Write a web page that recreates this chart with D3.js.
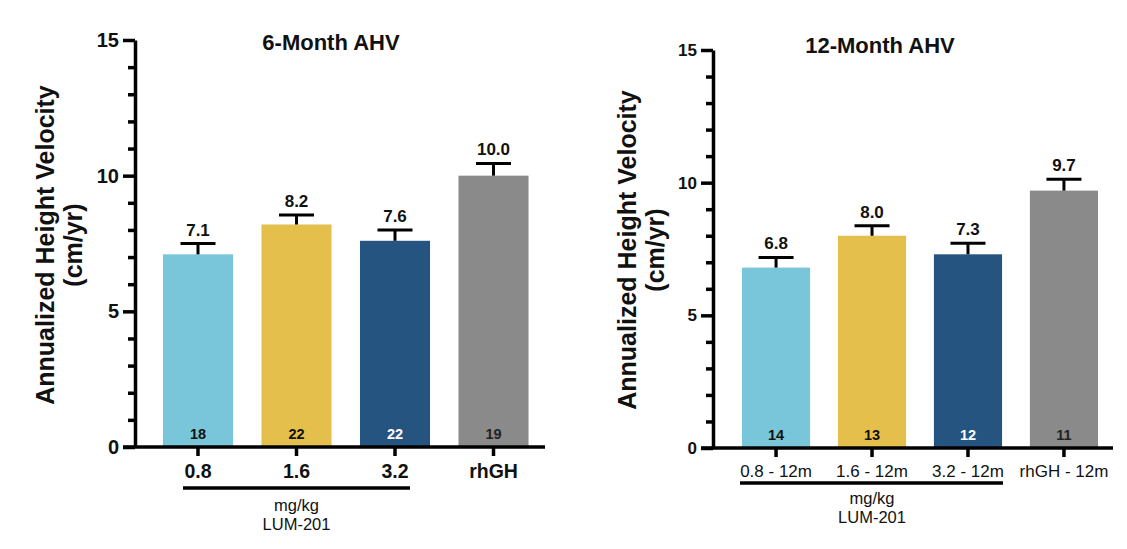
<!DOCTYPE html>
<html><head><meta charset="utf-8">
<script src="https://cdn.jsdelivr.net/npm/d3@7"></script>
<style>body{margin:0;background:#fff;} svg{display:block;font-family:"Liberation Sans",Arial,sans-serif;}</style>
</head><body>
<svg id="c" width="1127" height="549"></svg>
<script>
const categories6 = ["0.8", "1.6", "3.2", "rhGH"];
const values6 = [7.1, 8.2, 7.6, 10.0];
const errors6 = [0.4, 0.35, 0.4, 0.45];
const counts6 = [18, 22, 22, 19];
const categories12 = ["0.8 - 12m", "1.6 - 12m", "3.2 - 12m", "rhGH - 12m"];
const values12 = [6.8, 8.0, 7.3, 9.7];
const errors12 = [0.38, 0.38, 0.42, 0.43];
const counts12 = [14, 13, 12, 11];
const barColors = ["#79C5DA", "#E5BF4B", "#24547F", "#8A8A8A"];
const countColors = ["#111", "#111", "#fff", "#222"];
const yTicks = [0, 5, 10, 15];
const yMinor = [1,2,3,4,6,7,8,9,11,12,13,14];

const svg = d3.select("#c");
const FF = "Liberation Sans, Arial, sans-serif";

function panel(o) {
  const g = svg.append("g");
  const y = d3.scaleLinear().domain([0, 15]).range([o.y0, o.y15]);
  const x = d3.scaleBand().domain(o.cats).range([o.xAxis, o.xRange]).paddingInner(o.pi).paddingOuter(o.po);
  const cx = (i) => x(o.cats[i]) + x.bandwidth()/2;
  g.selectAll("rect.bar").data(o.vals).join("rect")
    .attr("x", (d,i) => x(o.cats[i])).attr("width", x.bandwidth())
    .attr("y", d => y(d)).attr("height", d => y(0) - y(d))
    .attr("fill", (d,i) => barColors[i]);
  g.selectAll("line.err").data(o.vals).join("line")
    .attr("x1", (d,i) => cx(i)).attr("x2", (d,i) => cx(i))
    .attr("y1", d => y(d)).attr("y2", (d,i) => y(d + o.errs[i]))
    .attr("stroke", "#000").attr("stroke-width", 3);
  g.selectAll("line.cap").data(o.vals).join("line")
    .attr("x1", (d,i) => cx(i) - 17.5).attr("x2", (d,i) => cx(i) + 17.5)
    .attr("y1", (d,i) => y(d + o.errs[i])).attr("y2", (d,i) => y(d + o.errs[i]))
    .attr("stroke", "#000").attr("stroke-width", 3);
  g.selectAll("text.val").data(o.vals).join("text")
    .attr("x", (d,i) => cx(i)).attr("y", (d,i) => y(d + o.errs[i]) - 8)
    .attr("text-anchor", "middle").attr("font-size", 17).attr("font-weight", "bold")
    .attr("fill", "#111").text(d => d.toFixed(1));
  g.selectAll("text.cnt").data(o.counts).join("text")
    .attr("x", (d,i) => cx(i)).attr("y", y(0) - 8)
    .attr("text-anchor", "middle").attr("font-size", 14.5).attr("font-weight", "bold")
    .attr("fill", (d,i) => countColors[i]).text(d => d);
  const ya = d3.axisLeft(y).tickValues(yTicks).tickSize(12).tickSizeOuter(0).tickPadding(4).tickFormat(d3.format("d"));
  const yg = g.append("g").attr("transform", `translate(${o.xAxis},0)`).call(ya);
  yg.select(".domain").attr("stroke", "#000").attr("stroke-width", 3.5);
  yg.selectAll(".tick line").attr("stroke", "#000").attr("stroke-width", 3.5);
  yg.selectAll(".tick text").attr("font-size", o.yfs).attr("font-weight", "bold").attr("fill", "#111")
    .attr("font-family", FF);
  const ym = d3.axisLeft(y).tickValues(yMinor).tickSize(7).tickSizeOuter(0).tickFormat("");
  const ymg = g.append("g").attr("transform", `translate(${o.xAxis},0)`).call(ym);
  ymg.select(".domain").remove();
  ymg.selectAll(".tick line").attr("stroke", "#000").attr("stroke-width", 3.5);
  const xa = d3.axisBottom(x).tickSize(9).tickSizeOuter(0);
  const xg = g.append("g").attr("transform", `translate(0,${y(0)})`).call(xa);
  xg.select(".domain").attr("stroke", "#000").attr("stroke-width", 3.5)
    .attr("d", `M${o.xAxis - 12},0H${o.xEnd}`);
  xg.selectAll(".tick line").attr("stroke", "#000").attr("stroke-width", 3.5);
  xg.selectAll(".tick text").attr("font-size", o.xfs).attr("font-weight", o.xfw).attr("fill", "#111")
    .attr("font-family", FF).attr("dy", null).attr("y", o.xlabY);
  g.append("line").attr("x1", o.brX1).attr("x2", o.brX2).attr("y1", o.brY).attr("y2", o.brY)
    .attr("stroke", "#000").attr("stroke-width", 3.5);
  const mx = (cx(0) + cx(2)) / 2;
  g.append("text").attr("x", mx).attr("y", o.brY + o.g1).attr("text-anchor", "middle")
    .attr("font-size", 16.5).attr("fill", "#111").text("mg/kg");
  g.append("text").attr("x", mx).attr("y", o.brY + o.g2).attr("text-anchor", "middle")
    .attr("font-size", 16.5).attr("fill", "#111").text("LUM-201");
  g.append("text").attr("x", o.titleX).attr("y", o.titleY).attr("text-anchor", "middle")
    .attr("font-size", 22).attr("font-weight", "bold").attr("fill", "#111").text(o.title);
  const yl = g.append("text").attr("transform", `translate(${o.ylX},${o.ylY}) rotate(-90)`)
    .attr("text-anchor", "middle").attr("font-size", 25).attr("font-weight", "bold").attr("fill", "#111");
  yl.append("tspan").attr("x", 0).attr("dy", 0).text("Annualized Height Velocity");
  yl.append("tspan").attr("x", 0).attr("dy", 28).text("(cm/yr)");
}

panel({cats: categories6, vals: values6, errs: errors6, counts: counts6,
  y0: 447, y15: 40, xAxis: 135, xRange: 556.5, xEnd: 545, pi: 0.289, po: 0.284,
  yfs: 20, xfs: 19.5, xfw: "bold", xlabY: 31,
  brX1: 183, brX2: 410, brY: 488, g1: 23, g2: 42,
  title: "6-Month AHV", titleX: 331, titleY: 50, ylX: 54, ylY: 245});

panel({cats: categories12, vals: values12, errs: errors12, counts: counts12,
  y0: 448, y15: 50, xAxis: 713, xRange: 1127, xEnd: 1113, pi: 0.29, po: 0.302,
  yfs: 17, xfs: 17, xfw: "normal", xlabY: 29,
  brX1: 740, brX2: 1003, brY: 483, g1: 21, g2: 40,
  title: "12-Month AHV", titleX: 880, titleY: 53, ylX: 636, ylY: 250});
</script>
</body></html>
